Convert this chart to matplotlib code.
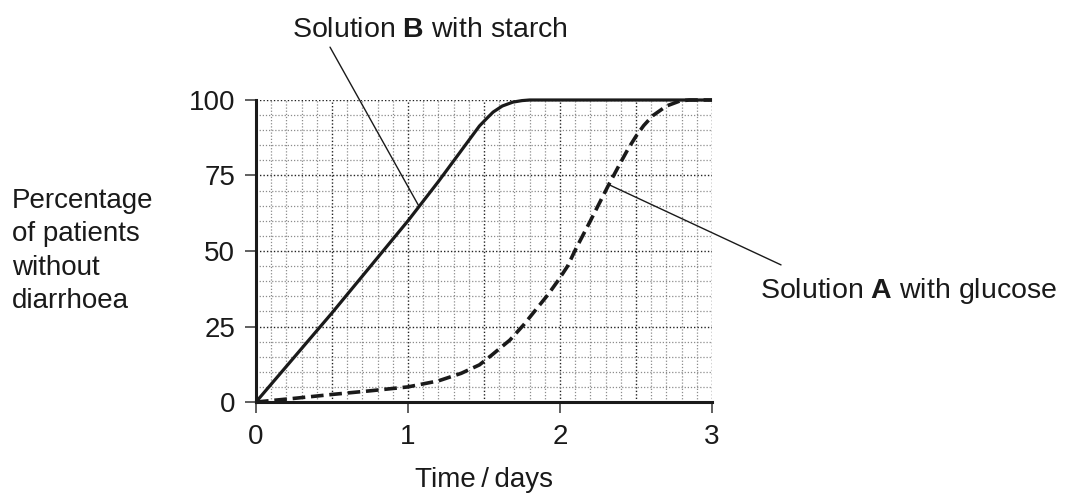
import numpy as np
import matplotlib
matplotlib.use("Agg")
import matplotlib.pyplot as plt

plt.rcParams['font.family'] = ['Liberation Sans', 'DejaVu Sans']
plt.rcParams['mathtext.fontset'] = 'custom'
plt.rcParams['mathtext.rm'] = 'Liberation Sans'
plt.rcParams['mathtext.bf'] = 'Liberation Sans:bold'

# Solution B with starch (solid)
days_b = [0, 0.5, 1.0, 1.2, 1.47, 1.52, 1.56, 1.62, 1.69, 1.75, 1.8, 3.0]
pct_b = [0, 29.5, 60, 73, 91.4, 94, 96, 98, 99.3, 99.8, 100, 100]

# Solution A with glucose (dashed)
days_a = [0, 0.25, 0.5, 0.75, 1.0, 1.2, 1.35, 1.47, 1.55, 1.67, 1.76, 1.84,
          1.92, 1.99, 2.05, 2.10, 2.2, 2.32, 2.39, 2.45, 2.5, 2.55, 2.61,
          2.7, 2.79, 2.85, 3.0]
pct_a = [0, 1.2, 2.5, 3.7, 5, 7, 9.5, 12.3, 15.5, 20.5, 25.5, 30.5,
         35.5, 40.4, 45, 50.3, 60, 71.9, 78.5, 84, 88, 91.5, 94.8,
         98, 99.7, 100, 100]

x_ticks = [0, 1, 2, 3]
y_ticks = [0, 25, 50, 75, 100]

label_b = r"Solution $\mathbf{B}$ with starch"
label_a = r"Solution $\mathbf{A}$ with glucose"
ylab = "Percentage\nof patients\nwithout\ndiarrhoea"

fig = plt.figure(figsize=(10.72, 4.96), dpi=100)
ax = fig.add_axes([0.2388, 0.1895, 0.4254, 0.6089])
ax.set_xlim(0, 3)
ax.set_ylim(0, 100)

# grid: fine lines every 0.1 day / 5 %, darker every 0.5 day / 25 %
dot = (0, (1, 1.5))
for gx in np.arange(0.1, 3.01, 0.1):
    if abs(gx * 2 - round(gx * 2)) < 1e-6:
        ax.axvline(gx, color='#222222', lw=1.0, ls=dot, zorder=1)
    else:
        ax.axvline(gx, color='#8c8c8c', lw=0.9, ls=dot, zorder=1)
for gy in np.arange(5, 100.1, 5):
    if gy % 25 == 0:
        ax.axhline(gy, color='#222222', lw=1.0, ls=dot, zorder=1)
    else:
        ax.axhline(gy, color='#8c8c8c', lw=0.9, ls=dot, zorder=1)

ax.plot(days_b, pct_b, color='#1a1a1a', lw=2.3, clip_on=False, zorder=3,
        solid_capstyle='butt')
ax.plot(days_a, pct_a, color='#1a1a1a', lw=2.6, ls=(0, (3.5, 1.6)),
        clip_on=False, zorder=3)

for s in ['top', 'right']:
    ax.spines[s].set_visible(False)
for s in ['left', 'bottom']:
    ax.spines[s].set_linewidth(2.2)
    ax.spines[s].set_color('#1a1a1a')
    ax.spines[s].set_zorder(4)

ax.set_xticks(x_ticks)
ax.set_yticks(y_ticks)
ax.tick_params(direction='out', length=8, width=1.2, color='#444444',
               labelsize=20, labelcolor='#1a1a1a')
ax.tick_params(axis='y', pad=7)
ax.tick_params(axis='x', pad=8)

ax.set_xlabel("Time\u2009/\u2009days", fontsize=20, color='#1a1a1a', labelpad=12)
fig.text(12 / 1072, 0.494, ylab, fontsize=20, color='#1a1a1a',
         ha='left', va='center', multialignment='left', linespacing=1.36)

# annotations
ax.annotate('', xy=(1.07, 65), xytext=(0.487, 117.5), annotation_clip=False,
            arrowprops=dict(arrowstyle='-', color='#1a1a1a', lw=1.0,
                            shrinkA=0, shrinkB=0))
ax.text(0.24, 120.9, label_b, fontsize=20.5, color='#1a1a1a',
        ha='left', va='baseline', clip_on=False)

ax.annotate('', xy=(2.32, 72), xytext=(3.454, 45.4), annotation_clip=False,
            arrowprops=dict(arrowstyle='-', color='#1a1a1a', lw=1.0,
                            shrinkA=0, shrinkB=0))
ax.text(3.316, 34.4, label_a, fontsize=20.5, color='#1a1a1a',
        ha='left', va='baseline', clip_on=False)

fig.savefig("out.png", dpi=100, facecolor='white')
